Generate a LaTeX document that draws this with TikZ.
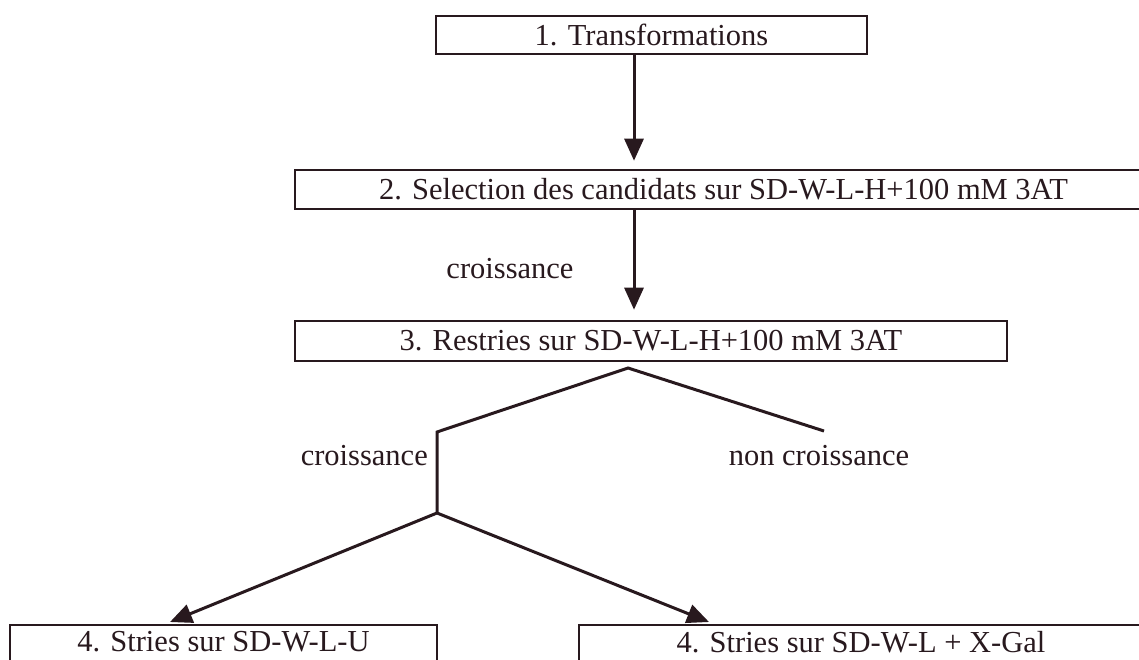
\documentclass[tikz,border=0pt]{standalone}
\usepackage{fontspec}
\setmainfont{Liberation Serif}
\usetikzlibrary{arrows.meta}
\definecolor{ink}{RGB}{40,25,30}

\begin{document}
\begin{tikzpicture}[x=1pt,y=-1pt,
  every node/.style={text=ink, font=\fontsize{30.5}{34}\selectfont, inner sep=0pt},
  box/.style={draw=ink, line width=2.6pt},
  ln/.style={draw=ink, line width=3pt, line join=miter},
  arr/.style={ln, -{Triangle[length=22pt,width=19pt]}}]
\useasboundingbox (0,0) rectangle (1139,660);

% the boxes (the right and bottom ones run off the page)
\node[box, minimum width=431pt, minimum height=38pt] (b1) at (651.5,35) {1. Transformations};
\node[box, minimum width=857pt, minimum height=39pt] (b2) at (723.5,189.5) {2. Selection des candidats sur SD-W-L-H+100 mM 3AT};
\node[box, minimum width=712pt, minimum height=40pt] (b3) at (651,341) {3. Restries sur SD-W-L-H+100 mM 3AT};
\node[box, minimum width=427pt, minimum height=42pt] (b4a) at (223.5,646) {};
\node[box, minimum width=564pt, minimum height=42pt] (b4b) at (861,646) {};
\node (t4a) at (223.5,642) {4. Stries sur SD-W-L-U};
\node (t4b) at (861,642) {4. Stries sur SD-W-L + X-Gal};

% branching
\coordinate (mid) at (634,0);
\coordinate (top) at (628,368);
\coordinate (sp) at (437,432);
\coordinate (nc) at (824,431);
\coordinate (fk) at (437,513);
\coordinate (e4a) at (170,622);
\coordinate (e4b) at (709,622);

\draw[arr, shorten >=8pt] (b1.south -| mid) -- (b2.north -| mid);
\draw[arr, shorten >=10pt] (b2.south -| mid) -- (b3.north -| mid);
\draw[ln] (fk) -- (sp) -- (top) -- (nc);
\draw[arr] (fk) -- (e4a);
\draw[arr] (fk) -- (e4b);

\node[anchor=base] (g1) at (510,278) {croissance};
\node[anchor=base east] (g2) at (428,465) {croissance};
\node[anchor=base] (ng) at (819,465) {non croissance};
\end{tikzpicture}
\end{document}
